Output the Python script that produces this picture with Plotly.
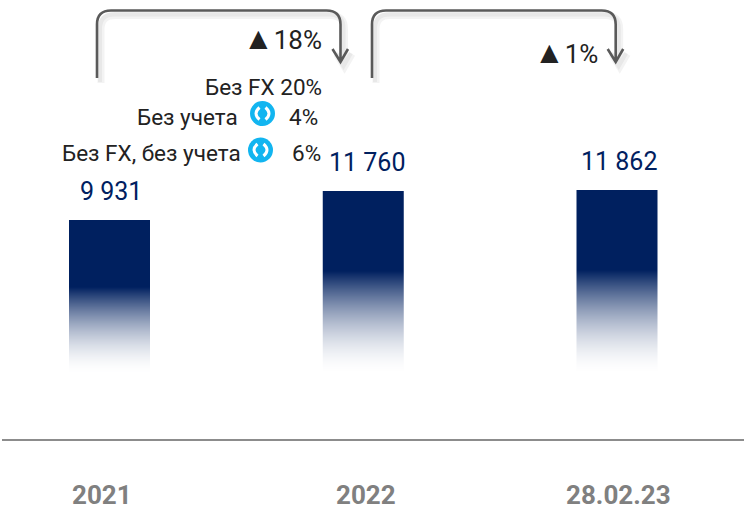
import plotly.graph_objects as go

categories = ["2021", "2022", "28.02.23"]
values = [9931, 11760, 11862]
growth_labels = ["18%", "1%"]
breakdown_labels = ["Без FX 20%", "Без учета", "4%", "Без FX, без учета", "6%"]

W, H = 744, 520
NAVY = "#00205F"
NAVY_RGB = (0, 32, 95)
FONT = "Roboto"
BASE_PX = 374.0
SCALE = 154.0 / 9931
X0_PX, STEP_PX, BAR_W_PX = 109.5, 253.75, 81.0
FADE_SHARE = 0.565

idx = list(range(len(categories)))
bar_w = BAR_W_PX / STEP_PX
yr = [(BASE_PX - H) / SCALE, BASE_PX / SCALE]
xr = [(0 - X0_PX) / STEP_PX, (W - X0_PX) / STEP_PX]

fig = go.Figure()
fig.add_trace(go.Bar(x=idx, y=values, width=bar_w - 0.006, marker=dict(color=NAVY, line_width=0),
                     hoverinfo="skip", showlegend=False))

# each bar repainted as one-pixel-tall rows from its foot to its value, fading towards the foot
row = 1 / SCALE
fx, fbase, fh, fcolor = [], [], [], []
for i, v in zip(idx, values):
    fade_rows = int(round(v * FADE_SHARE * SCALE))
    k = 0
    while k * row < v:
        t = (k + 0.5) / fade_rows
        a = 1 - t ** 1.7 if t < 1 else 0
        fx.append(i)
        fbase.append(k * row)
        fh.append(min(row, v - k * row))
        fcolor.append("rgb({},{},{})".format(*[round(c + (255 - c) * a) for c in NAVY_RGB]))
        k += 1
fig.add_trace(go.Bar(x=fx, y=fh, base=fbase, width=bar_w,
                     marker=dict(color=fcolor, line_width=0), hoverinfo="skip", showlegend=False))


def px(x):
    return x / W


def py(y):
    return 1 - y / H


def path(points_cmd):
    out = []
    for c in points_cmd:
        if isinstance(c, str):
            out.append(c)
        else:
            out.append(f"{px(c[0]):.5f},{py(c[1]):.5f}")
    return " ".join(out)


def bracket(xl, xr_, dx=0, dy=0):
    r = 14
    top, bot, tip = 10.5 + dy, 78 + dy, 62 + dy
    xl += dx
    xr_ += dx
    return path(["M", (xl, bot), "L", (xl, top + r), "Q", (xl, top), (xl + r, top),
                 "L", (xr_ - r, top), "Q", (xr_, top), (xr_, top + r), "L", (xr_, tip),
                 "M", (xr_ - 8, tip - 13), "L", (xr_, tip), "L", (xr_ + 7.5, tip - 13)])


shapes = []
for xl, xr_ in [(97, 340.5), (372, 615.7)]:
    shapes.append(dict(type="path", xref="paper", yref="paper", path=bracket(xl, xr_, 4, 5),
                       line=dict(color="rgba(120,120,120,0.09)", width=7), layer="below"))
    shapes.append(dict(type="path", xref="paper", yref="paper", path=bracket(xl, xr_, 3, 4),
                       line=dict(color="rgba(120,120,120,0.09)", width=4), layer="below"))
    shapes.append(dict(type="path", xref="paper", yref="paper", path=bracket(xl, xr_),
                       line=dict(color="#5A5A5A", width=2.6)))

shapes.append(dict(type="line", xref="paper", yref="paper", x0=px(2), x1=1, y0=py(440), y1=py(440),
                   line=dict(color="#8C8C8C", width=2)))

for cx, cy in [(262.5, 113.5), (260.5, 150)]:
    r = 12.5
    shapes.append(dict(type="circle", xref="paper", yref="paper", x0=px(cx - r), x1=px(cx + r),
                       y0=py(cy + r), y1=py(cy - r), fillcolor="#12B5F0", line_width=0))
    for s in (-1, 1):
        shapes.append(dict(type="path", xref="paper", yref="paper",
                           path=path(["M", (cx + s * 3, cy - 6), "Q", (cx + s * 10, cy), (cx + s * 3, cy + 6)]),
                           line=dict(color="white", width=3)))

ann = []


def text(t, x, y, size=22.5, color="#222222", anchor="right", fam=FONT):
    ann.append(dict(text=t, x=px(x), y=py(y), xref="paper", yref="paper", xanchor=anchor, yanchor="middle",
                    showarrow=False, font=dict(family=fam, size=size, color=color)))


TRI = '<span style="font-size:31px">▲</span>'
text(TRI + growth_labels[0], 324, 39, size=26)
text(TRI + growth_labels[1], 600, 53, size=26)
text(breakdown_labels[0], 324, 87)
text(breakdown_labels[1], 240, 117)
text(breakdown_labels[2], 320, 117)
text(breakdown_labels[3], 243, 153)
text(breakdown_labels[4], 323, 153)

shifts = [1.5, 3.5, 1.5]
for i, v, s in zip(idx, values, shifts):
    ann.append(dict(text=f"{v:,}".replace(",", " "), x=i, y=v, xref="x", yref="y", xshift=s, yshift=29,
                    yanchor="middle", xanchor="center", showarrow=False,
                    font=dict(family=FONT, size=25, color=NAVY)))

for c, cx in zip(categories, [102, 366, 618]):
    text(f"<b>{c}</b>", cx, 495, size=26, color="#808080", anchor="center")

fig.update_layout(width=W, height=H, margin=dict(l=0, r=0, t=0, b=0), paper_bgcolor="white",
                  plot_bgcolor="white", shapes=shapes, annotations=ann, showlegend=False,
                  barmode="overlay",
                  xaxis=dict(range=xr, visible=False, fixedrange=True),
                  yaxis=dict(range=yr, visible=False, fixedrange=True))
fig.write_html("out.html", config={"displayModeBar": False},
               post_script="document.body.style.margin='0';")
